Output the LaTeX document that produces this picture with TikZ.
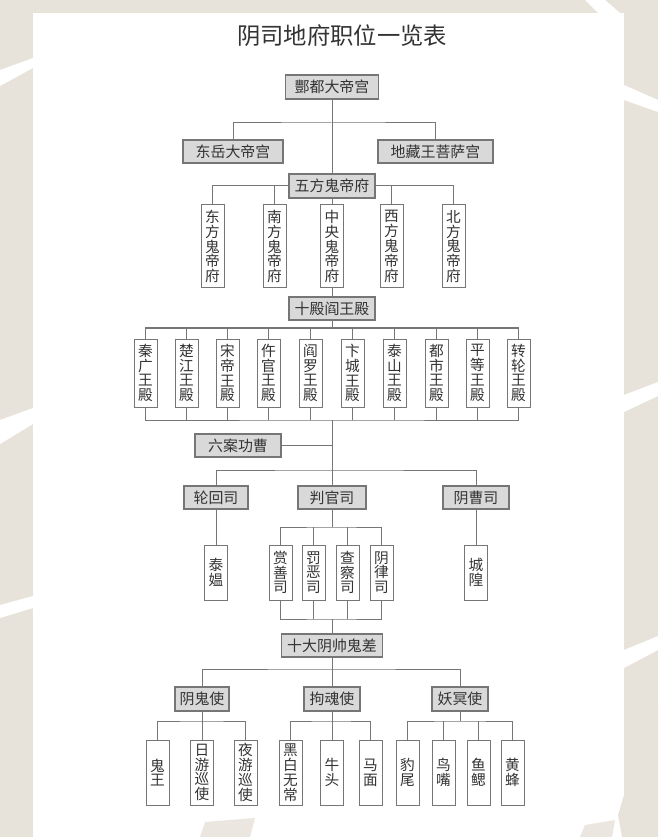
\documentclass[tikz,border=0pt]{standalone}
\usepackage{fontspec}
\setmainfont{Noto Sans CJK SC}
\newfontfamily\cjk{Noto Sans CJK SC}
\pgfdeclarelayer{back}
\pgfdeclarelayer{background}
\pgfsetlayers{back,background,main}
\definecolor{beige}{HTML}{E8E3DA}
\definecolor{boxfill}{HTML}{D9D9D9}
\definecolor{edge}{HTML}{767676}
\definecolor{ink}{HTML}{333333}
\tikzset{
  gbox/.style={draw=edge, fill=boxfill, line width=0.9pt, inner sep=0pt, text=ink,
    font=\cjk\fontsize{11.2}{13}\selectfont},
  vbox/.style={draw=edge, fill=white, line width=0.75pt, inner sep=0pt, text=ink, align=center,
    font=\cjk\fontsize{11}{11.1}\selectfont},
  link/.style={draw=edge, line width=0.75pt},
  titletext/.style={text=ink, font=\cjk\fontsize{17.5}{20}\selectfont}
}
% #1 style, #2 name, #3 x1, #4 y1, #5 x2, #6 y2, #7 text
\newcommand\bx[7]{\node[#1, minimum width={(#5-#3)*0.75pt}, minimum height={(#6-#4)*0.75pt}] (#2) at ({(#3+#5)/2},{(#4+#6)/2}) {#7};}
\begin{document}
\begin{tikzpicture}[x=0.75pt,y=-0.75pt]
\useasboundingbox (0,0) rectangle (658,837);
\begin{pgfonlayer}{back}
  \fill[beige] (0,0) rectangle (658,837);
  \fill[white] (33,13) rectangle (624,837);
  % white brush streaks in the margins
  \fill[white] (0,70) -- (33,58) -- (33,68) -- (0,86) -- cycle;
  \fill[white] (0,420) -- (33,408) -- (33,424) -- (0,444) -- cycle;
  \fill[white] (0,605) -- (33,596) -- (33,608) -- (0,618) -- cycle;
  \fill[white] (624,85) -- (658,100) -- (658,112) -- (624,100) -- cycle;
  \fill[white] (624,395) -- (658,382) -- (658,396) -- (624,412) -- cycle;
  \fill[white] (624,650) -- (658,636) -- (658,650) -- (624,668) -- cycle;
  \fill[white] (585,0) -- (605,0) -- (620,13) -- (598,13) -- cycle;
  % beige strokes at the bottom
  \fill[beige!85!white] (205,822) -- (255,818) -- (250,837) -- (200,837) -- cycle;
  \fill[beige] (624,730) -- (640,712) -- (658,702) -- (658,837) -- (622,837) -- (618,815) -- (624,795) -- cycle;
  \fill[beige!85!white] (585,825) -- (615,820) -- (612,837) -- (580,837) -- cycle;
\end{pgfonlayer}

\node[titletext] (title) at (342,36) {阴司地府职位一览表};

% level 1
\bx{gbox}{top}{285.5}{75}{378.5}{99}{酆都大帝宫}
\bx{gbox}{dongyue}{183}{140}{283}{163}{东岳大帝宫}
\bx{gbox}{dizang}{378}{140}{493}{163}{地藏王菩萨宫}
% five ghost emperors
\bx{gbox}{wufang}{289}{174}{375}{198}{五方鬼帝府}
\bx{vbox}{f1}{201}{205}{224}{288}{东\\方\\鬼\\帝\\府}
\bx{vbox}{f2}{263}{205}{286}{288}{南\\方\\鬼\\帝\\府}
\bx{vbox}{f3}{320.5}{205}{343.5}{288}{中\\央\\鬼\\帝\\府}
\bx{vbox}{f4}{380}{205}{403}{288}{西\\方\\鬼\\帝\\府}
\bx{vbox}{f5}{442}{205}{465}{288}{北\\方\\鬼\\帝\\府}
% ten kings
\bx{gbox}{shidian}{289}{297}{375}{320}{十殿阎王殿}
\bx{vbox}{k1}{134}{339}{157}{407}{秦\\广\\王\\殿}
\bx{vbox}{k2}{175}{339}{198}{407}{楚\\江\\王\\殿}
\bx{vbox}{k3}{216}{339}{239}{407}{宋\\帝\\王\\殿}
\bx{vbox}{k4}{257}{339}{280}{407}{仵\\官\\王\\殿}
\bx{vbox}{k5}{299}{339}{322}{407}{阎\\罗\\王\\殿}
\bx{vbox}{k6}{341}{339}{364}{407}{卞\\城\\王\\殿}
\bx{vbox}{k7}{383}{339}{406}{407}{泰\\山\\王\\殿}
\bx{vbox}{k8}{425}{339}{448}{407}{都\\市\\王\\殿}
\bx{vbox}{k9}{466}{339}{489}{407}{平\\等\\王\\殿}
\bx{vbox}{k10}{507}{339}{530}{407}{转\\轮\\王\\殿}
% six case officials and the three departments
\bx{gbox}{liuan}{195}{434}{281}{457}{六案功曹}
\bx{gbox}{lunhui}{184}{486}{248}{509}{轮回司}
\bx{gbox}{panguan}{298}{486}{366}{509}{判官司}
\bx{gbox}{yincao}{443}{486}{509}{509}{阴曹司}
\bx{vbox}{taiao}{204.5}{545}{227.5}{600}{泰\\媪}
\bx{vbox}{s1}{269}{545}{292}{600}{赏\\善\\司}
\bx{vbox}{s2}{302}{545}{325}{600}{罚\\恶\\司}
\bx{vbox}{s3}{336}{545}{359}{600}{查\\察\\司}
\bx{vbox}{s4}{370}{545}{393}{600}{阴\\律\\司}
\bx{vbox}{chenghuang}{464.5}{545}{487.5}{600}{城\\隍}
% ten marshals
\bx{gbox}{shida}{281.5}{634}{382.5}{657}{十大阴帅鬼差}
\bx{gbox}{yingui}{175}{687}{229}{711}{阴鬼使}
\bx{gbox}{juhun}{304}{687}{360}{711}{拘魂使}
\bx{gbox}{yaoming}{432}{687}{488}{711}{妖冥使}
\bx{vbox}{b1}{146}{740}{169}{805}{鬼\\王}
\bx{vbox}{b2}{190.5}{740}{213.5}{805}{日\\游\\巡\\使}
\bx{vbox}{b3}{234}{740}{257}{805}{夜\\游\\巡\\使}
\bx{vbox}{b4}{279}{740}{302}{805}{黑\\白\\无\\常}
\bx{vbox}{b5}{320.5}{740}{343.5}{805}{牛\\头}
\bx{vbox}{b6}{359}{740}{382}{805}{马\\面}
\bx{vbox}{b7}{396}{740}{419}{805}{豹\\尾}
\bx{vbox}{b8}{432}{740}{455}{805}{鸟\\嘴}
\bx{vbox}{b9}{467}{740}{490}{805}{鱼\\鳃}
\bx{vbox}{b10}{501}{740}{524}{805}{黄\\蜂}

\coordinate (bar1) at (332,123);
\coordinate (bar3) at (332,328);
\coordinate (bar4) at (332,420);
\coordinate (bar5) at (332,470);
\coordinate (bar6) at (332,527);
\coordinate (bar7) at (332,619);
\coordinate (bar8) at (332,669);
\coordinate (bar9) at (332,721);

\begin{pgfonlayer}{background}
  % top
  \draw[link] (top.south) -- (wufang.north);
  \draw[link] (dongyue.north) |- (bar1) -| (dizang.north);
  % five
  \draw[link] (f1.north) |- (wufang.west);
  \draw[link] (f2.north) |- (wufang.west);
  \draw[link] (f4.north) |- (wufang.east);
  \draw[link] (f5.north) |- (wufang.east);
  \draw[link] (wufang.south) -- (f3.north);
  \draw[link] (f3.south) -- (shidian.north);
  % ten kings
  \draw[link] (shidian.south) -- (bar3);
  \draw[link] (k1.north) |- (bar3) -| (k10.north);
  \foreach \k in {k2,k3,k4,k5,k6,k7,k8,k9} {
    \draw[link] (\k.north) -- (\k.north |- bar3);
    \draw[link] (\k.south) -- (\k.south |- bar4);
  }
  \draw[link] (k1.south) |- (bar4) -| (k10.south);
  \draw[link] (bar4) -- (panguan.north);
  \draw[link] (liuan.east) -- (liuan.east -| bar4);
  \draw[link] (lunhui.north) |- (bar5) -| (yincao.north);
  \draw[link] (lunhui.south) -- (lunhui.south |- taiao.north);
  \draw[link] (yincao.south) -- (yincao.south |- chenghuang.north);
  % judges
  \draw[link] (panguan.south) -- (bar6);
  \draw[link] (s1.north) |- (bar6) -| (s4.north);
  \draw[link] (s2.north) -- (s2.north |- bar6);
  \draw[link] (s3.north) -- (s3.north |- bar6);
  \draw[link] (s1.south) |- (bar7) -| (s4.south);
  \draw[link] (s2.south) -- (s2.south |- bar7);
  \draw[link] (s3.south) -- (s3.south |- bar7);
  \draw[link] (bar7) -- (shida.north);
  % marshals
  \draw[link] (shida.south) -- (juhun.north);
  \draw[link] (yingui.north) |- (bar8) -| (yaoming.north);
  \draw[link] (yingui.south) -- (b2.north);
  \draw[link] (b1.north) |- (b2.north |- bar9) -| (b3.north);
  \draw[link] (juhun.south) -- (b5.north);
  \draw[link] (b4.north) |- (b5.north |- bar9) -| (b6.north);
  \draw[link] (yaoming.south) -- (yaoming.south |- bar9);
  \draw[link] (b7.north) |- (yaoming.south |- bar9) -| (b10.north);
  \draw[link] (b8.north) -- (b8.north |- bar9);
  \draw[link] (b9.north) -- (b9.north |- bar9);
\end{pgfonlayer}
\end{tikzpicture}
\end{document}
